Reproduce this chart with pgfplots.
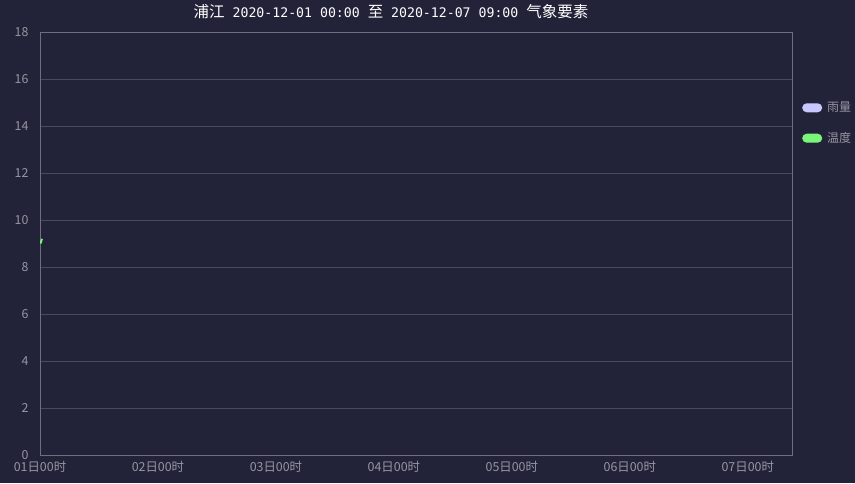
\documentclass[border=0pt]{standalone}
\usepackage{fontspec}
\setmainfont{Noto Sans CJK SC}
\newfontfamily\monof{DejaVu Sans Mono}
\usepackage{pgfplots}
\pgfplotsset{compat=1.18}
\definecolor{bg}{RGB}{34,34,56}
\definecolor{gridc}{RGB}{74,74,90}
\definecolor{axisc}{RGB}{110,110,128}
\definecolor{labc}{RGB}{150,150,162}
\definecolor{rainc}{RGB}{200,200,255}
\definecolor{tempc}{RGB}{122,245,122}
\begin{document}
\begin{tikzpicture}[x=1pt,y=1pt]
\path[use as bounding box,fill=bg] (0,0) rectangle (855,483);
\node[text=white,font=\fontsize{15.5}{17}\selectfont,inner sep=0pt] at (391,471) {浦江{\monof\fontsize{13.2}{16}\selectfont{} 2020-12-01 00:00 }至{\monof\fontsize{13.2}{16}\selectfont{} 2020-12-07 09:00 }气象要素};
\begin{axis}[
  at={(40pt,28pt)}, anchor=south west,
  scale only axis, width=752pt, height=423pt,
  xmin=0, xmax=153, ymin=0, ymax=18,
  xtick={0,24,48,72,96,120,144},
  xticklabels={01日00时,02日00时,03日00时,04日00时,05日00时,06日00时,07日00时},
  ytick={0,2,...,18},
  axis line style={draw=axisc, line width=0.8pt},
  major tick style={draw=none},
  ymajorgrids, grid style={draw=gridc, line width=0.8pt},
  tick label style={text=labc, font=\fontsize{12.4}{14}\selectfont},
  /pgf/number format/assume math mode=true,
  xticklabel style={yshift=-3pt},
  yticklabel style={xshift=-8pt},
  legend style={at={(1,0.844)}, anchor=north west, xshift=7pt, draw=none, fill=none,
    text=labc, font=\fontsize{12}{14}\selectfont, row sep=15pt},
  legend cell align=left,
  legend image code/.code={\draw[#1, draw=none, rounded corners=4.5pt] (0pt,-4.5pt) rectangle (20pt,4.5pt); \path (22pt,0pt);},
]
\addlegendimage{fill=rainc}
\addlegendentry{雨量}
\addplot[draw=tempc, line width=2pt, fill=tempc, mark=none] coordinates {(0.1,9.0) (0.4,9.2)};
\addlegendentry{温度}
\end{axis}
\end{tikzpicture}
\end{document}
